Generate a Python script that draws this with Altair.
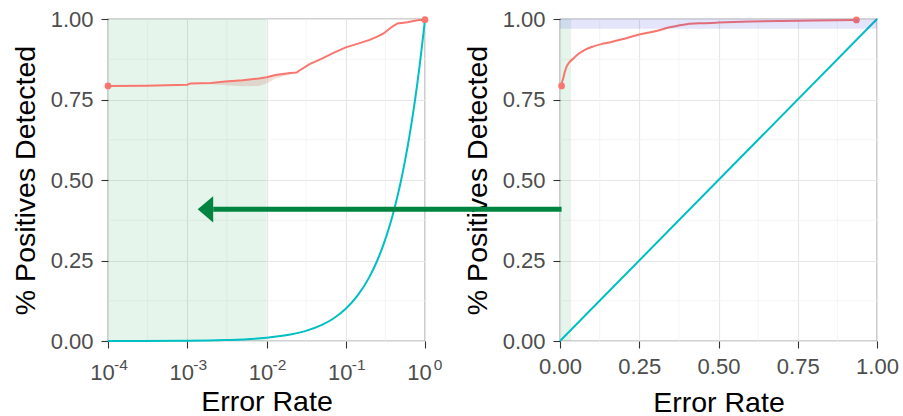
import altair as alt
import pandas as pd

# ---------------- data ----------------
# left panel (log x)
roc_log_x = [0.0001, 0.0003, 0.001, 0.0011, 0.002, 0.003, 0.005, 0.008, 0.01, 0.013,
             0.02, 0.024, 0.026, 0.035, 0.05, 0.07, 0.1, 0.15, 0.2, 0.25, 0.3, 0.38,
             0.45, 0.6, 0.8, 1.0]
roc_log_y = [0.792, 0.793, 0.796, 0.800, 0.801, 0.806, 0.810, 0.815, 0.819, 0.826,
             0.832, 0.834, 0.840, 0.860, 0.877, 0.895, 0.912, 0.925, 0.935, 0.945,
             0.955, 0.975, 0.986, 0.990, 0.996, 0.998]
ribbon_x = [0.001, 0.002, 0.003, 0.005, 0.008, 0.01, 0.013, 0.02]
ribbon_hi = [0.800, 0.801, 0.806, 0.810, 0.815, 0.819, 0.826, 0.832]
ribbon_lo = [0.800, 0.797, 0.794, 0.791, 0.792, 0.800, 0.815, 0.828]
log_dots_x = [0.0001, 1.0]
log_dots_y = [0.792, 0.998]
chance_vals = [0.0001, 0.001, 0.003, 0.01, 0.02, 0.03, 0.05, 0.07, 0.1, 0.14, 0.2,
               0.25, 0.3, 0.35, 0.4, 0.45, 0.5, 0.55, 0.6, 0.65, 0.7, 0.75, 0.8,
               0.85, 0.9, 0.95, 1.0]
log_ticks = [0.0001, 0.001, 0.01, 0.1, 1.0]
log_exponents = ["-4", "-3", "-2", "-1", "0"]
log_minor = [0.000316, 0.00316, 0.0316, 0.316]
green_log = [0.0001, 0.01]

# right panel (linear x)
roc_lin_x = [0.005, 0.006, 0.01, 0.015, 0.02, 0.03, 0.045, 0.06, 0.08, 0.1, 0.13,
             0.16, 0.2, 0.25, 0.3, 0.35, 0.4, 0.45, 0.5, 0.6, 0.7, 0.8, 0.935]
roc_lin_y = [0.792, 0.800, 0.815, 0.835, 0.850, 0.866, 0.880, 0.893, 0.905, 0.913,
             0.922, 0.928, 0.938, 0.952, 0.962, 0.975, 0.984, 0.987, 0.989, 0.992,
             0.994, 0.995, 0.997]
lin_dots_x = [0.005, 0.935]
lin_dots_y = [0.792, 0.997]
chance_lin = [0.0, 1.0]
lin_ticks = [0.0, 0.25, 0.5, 0.75, 1.0]
lin_minor = [0.125, 0.375, 0.625, 0.875]
green_lin = [0.0, 0.035]
purple_y = [0.97, 1.0]
y_ticks = [0.0, 0.25, 0.5, 0.75, 1.0]
y_minor = [0.125, 0.375, 0.625, 0.875]
arrow_x = [-1.094, 0.005]
arrow_tip_x = -1.143
arrow_y = 0.409

# ---------------- style ----------------
W, H = 317, 322
FONT = "Liberation Sans"
RED = "#F8766D"
CYAN = "#00BFC4"
GREEN = "#00843f"
GRID = "#e6e6e6"
MINOR = "#f1f1f1"
LAB = 22
TIT = 28.5

common_axis = dict(grid=True, gridColor=GRID, gridWidth=1.2, tickSize=7,
                   tickColor="#333333", tickWidth=1.1, domain=False,
                   labelFontSize=LAB, labelColor="#4d4d4d", labelFont=FONT,
                   labelFlush=False, labelOverlap=False,
                   titleFontSize=TIT, titleFont=FONT, titleFontWeight="normal",
                   titleColor="#000000")


def yenc(field):
    return alt.Y(field, type="quantitative",
                 scale=alt.Scale(domain=[0, 1], nice=False, zero=False),
                 axis=alt.Axis(values=y_ticks, format=".2f", title="% Positives Detected",
                               labelPadding=8, titlePadding=10, **common_axis))


def xlog(field):
    return alt.X(field, type="quantitative",
                 scale=alt.Scale(type="log", domain=[0.0001, 1], nice=False),
                 axis=alt.Axis(values=log_ticks, labelExpr="'10'", labelOffset=-6,
                               title="Error Rate", labelPadding=14, titlePadding=4,
                               **common_axis))


def xlin(field):
    return alt.X(field, type="quantitative",
                 scale=alt.Scale(domain=[0, 1], nice=False, zero=False),
                 axis=alt.Axis(values=lin_ticks, format=".2f", title="Error Rate",
                               labelPadding=8, titlePadding=11, **common_axis))


# ---------------- left panel ----------------
df_log_minor = pd.DataFrame({"x": log_minor})
df_y_minor = pd.DataFrame({"y": y_minor})
df_green_log = pd.DataFrame({"x": [green_log[0]], "x2": [green_log[1]], "y": [0.0], "y2": [1.0]})
df_ribbon = pd.DataFrame({"x": ribbon_x, "lo": ribbon_lo, "hi": ribbon_hi})
df_chance_log = pd.DataFrame({"x": chance_vals, "y": chance_vals})
df_roc_log = pd.DataFrame({"x": roc_log_x, "y": roc_log_y})
df_dots_log = pd.DataFrame({"x": log_dots_x, "y": log_dots_y})
df_exp = pd.DataFrame({"x": log_ticks, "t": log_exponents})

l_minor_x = alt.Chart(df_log_minor).mark_rule(color=MINOR, strokeWidth=0.8).encode(x=xlog("x"))
l_minor_y = alt.Chart(df_y_minor).mark_rule(color=MINOR, strokeWidth=0.8).encode(y=yenc("y"))
l_green = alt.Chart(df_green_log).mark_rect(color="#00a040", opacity=0.1).encode(
    x=xlog("x"), x2="x2", y=yenc("y"), y2="y2")
l_ribbon = alt.Chart(df_ribbon).mark_area(color="#d08070", opacity=0.25).encode(
    x=xlog("x"), y=yenc("lo"), y2="hi")
l_chance = alt.Chart(df_chance_log).mark_line(color=CYAN, strokeWidth=2,
                                               interpolate="monotone").encode(
    x=xlog("x"), y=yenc("y"))
l_roc = alt.Chart(df_roc_log).mark_line(color=RED, strokeWidth=2).encode(
    x=xlog("x"), y=yenc("y"))
l_dots = alt.Chart(df_dots_log).mark_circle(color=RED, size=45, opacity=1).encode(
    x=xlog("x"), y=yenc("y"))
l_exp = alt.Chart(df_exp).mark_text(fontSize=15.5, font=FONT, color="#4d4d4d",
                                     align="center", baseline="middle", dx=13,
                                     clip=False).encode(
    x=xlog("x"), y=alt.value(H + 24), text="t:N")

left = alt.layer(l_minor_x, l_minor_y, l_green, l_ribbon, l_chance, l_roc, l_dots,
                 l_exp).properties(width=W, height=H)

# ---------------- right panel ----------------
df_lin_minor = pd.DataFrame({"x": lin_minor})
df_green_lin = pd.DataFrame({"x": [green_lin[0]], "x2": [green_lin[1]], "y": [0.0], "y2": [1.0]})
df_purple = pd.DataFrame({"x": [0.0], "x2": [1.0], "y": [purple_y[0]], "y2": [purple_y[1]]})
df_chance_lin = pd.DataFrame({"x": chance_lin, "y": chance_lin})
df_roc_lin = pd.DataFrame({"x": roc_lin_x, "y": roc_lin_y})
df_dots_lin = pd.DataFrame({"x": lin_dots_x, "y": lin_dots_y})
df_arrow = pd.DataFrame({"x": [arrow_x[0]], "x2": [arrow_x[1]], "y": [arrow_y]})
df_tip = pd.DataFrame({"x": [arrow_tip_x], "y": [arrow_y]})

r_minor_x = alt.Chart(df_lin_minor).mark_rule(color=MINOR, strokeWidth=0.8).encode(x=xlin("x"))
r_minor_y = alt.Chart(df_y_minor).mark_rule(color=MINOR, strokeWidth=0.8).encode(y=yenc("y"))
r_green = alt.Chart(df_green_lin).mark_rect(color="#00a040", opacity=0.1).encode(
    x=xlin("x"), x2="x2", y=yenc("y"), y2="y2")
r_chance = alt.Chart(df_chance_lin).mark_line(color=CYAN, strokeWidth=2).encode(
    x=xlin("x"), y=yenc("y"))
r_roc = alt.Chart(df_roc_lin).mark_line(color=RED, strokeWidth=2,
                                         interpolate="monotone").encode(
    x=xlin("x"), y=yenc("y"))
r_dots = alt.Chart(df_dots_lin).mark_circle(color=RED, size=45, opacity=1).encode(
    x=xlin("x"), y=yenc("y"))
r_purple = alt.Chart(df_purple).mark_rect(color="#3030e0", opacity=0.13).encode(
    x=xlin("x"), x2="x2", y=yenc("y"), y2="y2")
r_arrow = alt.Chart(df_arrow).mark_rule(color=GREEN, strokeWidth=5, clip=False).encode(
    x=xlin("x"), x2="x2", y=yenc("y"))
r_tip = alt.Chart(df_tip).mark_point(shape="M0,0L2,-1.7L2,1.7Z", size=240, filled=True,
                                      color=GREEN, opacity=1, clip=False).encode(
    x=xlin("x"), y=yenc("y"))

right = alt.layer(r_minor_x, r_minor_y, r_green, r_chance, r_roc, r_dots, r_purple,
                  r_arrow, r_tip).properties(width=W, height=H)

chart = alt.hconcat(left, right, spacing=135, bounds="flush").properties(
    padding={"left": 10, "top": 7, "right": 0, "bottom": 0},
    background="white",
).configure_view(stroke="#4d4d4d", strokeWidth=1.2)

chart.save("out.html", embed_options={"renderer": "svg", "actions": False})
